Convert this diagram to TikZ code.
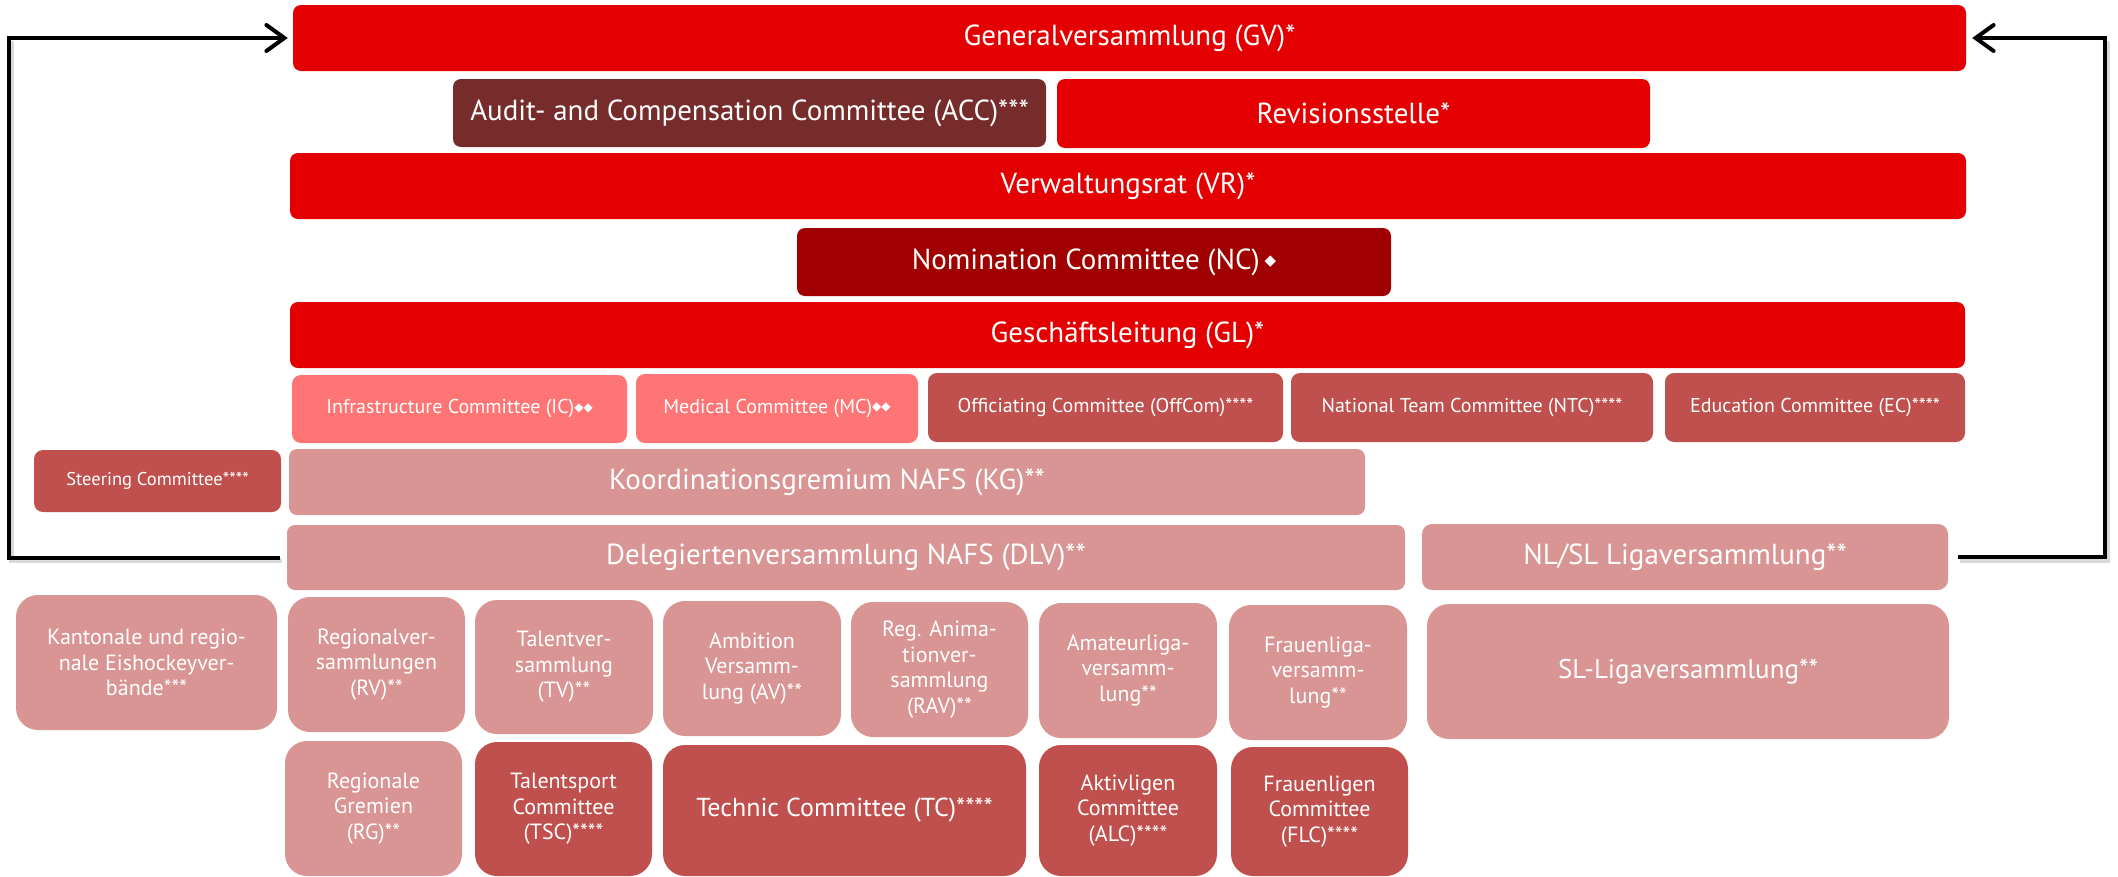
\documentclass[tikz,border=0pt]{standalone}
\usepackage{fontspec}
\setmainfont{PT Sans}
\newfontfamily\symf{DejaVu Sans}
\usetikzlibrary{arrows.meta}
\definecolor{cRed}{HTML}{E40000}
\definecolor{cACC}{HTML}{772C2C}
\definecolor{cNC}{HTML}{A00000}
\definecolor{cSalmon}{HTML}{FF7474}
\definecolor{cMid}{HTML}{C0504D}
\definecolor{cLight}{HTML}{D99594}
\newcommand\dm{\raisebox{2.5pt}{\symf\fontsize{12}{12}\selectfont ◆}}
\newcommand\bigdm{\raisebox{3.5pt}{\symf\fontsize{15}{15}\selectfont ◆}}
\newcommand\orgbox[7]{\node[#2, minimum width={#5-#3}, minimum height={#6-#4}] (#1) at ({(#3+#5)/2},{(#4+#6)/2}) {#7};}
\tikzset{
  base/.style={rectangle, inner sep=0pt, text=white, align=center},
  bigbar/.style={base, rounded corners=8pt, font=\fontsize{29}{34}\selectfont},
  redbar/.style={bigbar, fill=cRed},
  accbar/.style={bigbar, fill=cACC},
  ncbar/.style={bigbar, fill=cNC},
  lightbar/.style={bigbar, fill=cLight},
  comm/.style={base, rounded corners=9pt, font=\fontsize{20}{24}\selectfont},
  salmoncomm/.style={comm, fill=cSalmon},
  midcomm/.style={comm, fill=cMid},
  tile/.style={base, rounded corners=22pt, font=\fontsize{22}{25.5}\selectfont},
  lighttile/.style={tile, fill=cLight},
  midtile/.style={tile, fill=cMid},
  conn/.style={line width=4pt, draw=black, -{Straight Barb[length=18pt,width=26pt,line cap=round]}},
  connshadow/.style={line width=5pt, draw=black!25, opacity=0.6}
}
\begin{document}
\begin{tikzpicture}[x=1pt,y=-1pt]
\useasboundingbox (0,0) rectangle (2118,876);
% top levels
\orgbox{gv}{redbar}{293}{5}{1966}{71}{Generalversammlung (GV)*}
\orgbox{acc}{accbar}{453}{79}{1046}{147}{Audit- and Compensation Committee (ACC)***}
\orgbox{rev}{redbar}{1057}{79}{1650}{148}{Revisionsstelle*}
\orgbox{vr}{redbar}{290}{153}{1966}{219}{Verwaltungsrat (VR)*}
\orgbox{nc}{ncbar}{797}{228}{1391}{296}{Nomination Committee (NC)\,\bigdm}
\orgbox{gl}{redbar}{290}{302}{1965}{368}{Geschäftsleitung (GL)*}
% committees row
\orgbox{ic}{salmoncomm}{292}{375}{627}{443}{Infrastructure Committee (IC)\dm\dm}
\orgbox{mc}{salmoncomm}{636}{374}{918}{443}{Medical Committee (MC)\dm\dm}
\orgbox{off}{midcomm}{928}{373}{1283}{442}{Officiating Committee (OffCom)****}
\orgbox{ntc}{midcomm}{1291}{373}{1653}{442}{National Team Committee (NTC)****}
\orgbox{ec}{midcomm}{1665}{373}{1965}{442}{Education Committee (EC)****}
% coordination
\orgbox{sc}{midcomm, font=\fontsize{18.5}{22}\selectfont}{34}{450}{281}{512}{Steering Committee****}
\orgbox{kg}{lightbar}{289}{449}{1365}{515}{Koordinationsgremium NAFS (KG)**}
\orgbox{dlv}{lightbar}{287}{525}{1405}{590}{Delegiertenversammlung NAFS (DLV)**}
\orgbox{nlsl}{lightbar, rounded corners=10pt}{1422}{524}{1948}{590}{NL/SL Ligaversammlung**}
% assemblies
\orgbox{kant}{lighttile}{16}{595}{277}{730}{Kantonale und regio-\\nale Eishockeyver-\\bände***}
\orgbox{rv}{lighttile}{288}{597}{465}{732}{Regionalver-\\sammlungen\\(RV)**}
\orgbox{tv}{lighttile}{475}{600}{653}{734}{Talentver-\\sammlung\\(TV)**}
\orgbox{av}{lighttile}{663}{601}{841}{736}{Ambition\\Versamm-\\lung (AV)**}
\orgbox{rav}{lighttile}{851}{602}{1028}{737}{Reg. Anima-\\tionver-\\sammlung\\(RAV)**}
\orgbox{aml}{lighttile}{1039}{603}{1217}{738}{Amateurliga-\\versamm-\\lung**}
\orgbox{frl}{lighttile}{1229}{605}{1407}{740}{Frauenliga-\\versamm-\\lung**}
\orgbox{sl}{lighttile, font=\fontsize{27}{32}\selectfont}{1427}{604}{1949}{739}{SL-Ligaversammlung**}
% bottom committees
\orgbox{rg}{lighttile}{285}{741}{462}{876}{Regionale\\Gremien\\(RG)**}
\orgbox{tsc}{midtile}{475}{742}{652}{876}{Talentsport\\Committee\\(TSC)****}
\orgbox{tc}{midtile, font=\fontsize{26}{30}\selectfont}{663}{745}{1026}{876}{Technic Committee (TC)****}
\orgbox{alc}{midtile}{1039}{745}{1217}{876}{Aktivligen\\Committee\\(ALC)****}
\orgbox{flc}{midtile}{1231}{747}{1408}{876}{Frauenligen\\Committee\\(FLC)****}
% connectors
\coordinate (lcorner) at (9,38);
\coordinate (rcorner) at (2105,38);
\begin{scope}[transform canvas={shift={(2pt,-3pt)}}]
\draw[connshadow, shorten <=7pt] (dlv.west) -| (lcorner);
\draw[connshadow, shorten <=10pt] (nlsl.east) -| (rcorner);
\end{scope}
\draw[conn, shorten <=7pt, shorten >=5pt] (dlv.west) -| (lcorner) -- (gv.west);
\draw[conn, shorten <=10pt, shorten >=6pt] (nlsl.east) -| (rcorner) -- (gv.east);
\end{tikzpicture}
\end{document}
